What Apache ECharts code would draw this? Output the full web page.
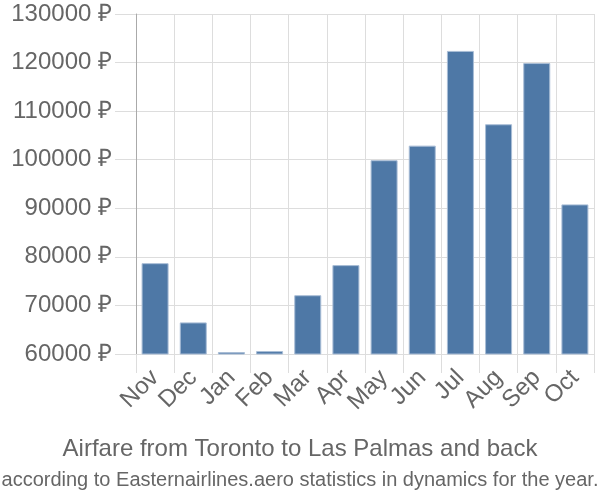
<!DOCTYPE html>
<html>
<head>
<meta charset="utf-8">
<script src="https://cdn.jsdelivr.net/npm/echarts@6/dist/echarts.min.js"></script>
<style>html,body{margin:0;padding:0;background:#fff}#c{width:600px;height:500px}</style>
</head>
<body>
<div id="c"></div>
<script>
var categories = ['Nov','Dec','Jan','Feb','Mar','Apr','May','Jun','Jul','Aug','Sep','Oct'];
var prices = [78700, 66500, 60400, 60600, 72100, 78300, 99900, 102900, 122400, 107300, 119900, 90800];
var titleText = 'Airfare from Toronto to Las Palmas and back';
var subtitleText = 'according to Easternairlines.aero statistics in dynamics for the year.';
var yMin = 60000, yMax = 130000, yStep = 10000;

var chart = echarts.init(document.getElementById('c'), null, {renderer: 'canvas'});
var font = 'Liberation Sans, Arial, sans-serif';
chart.setOption({
  animation: false,
  backgroundColor: '#fff',
  title: [{
    text: titleText, left: 'center', top: 432,
    textStyle: {fontFamily: font, fontSize: 24, fontWeight: 'normal', color: '#666'}
  }, {
    text: subtitleText, left: 'center', top: 465,
    textStyle: {fontFamily: font, fontSize: 20, fontWeight: 'normal', color: '#666'}
  }],
  grid: {left: 136, right: 6, top: 14, bottom: 146, containLabel: false},
  xAxis: {
    type: 'category', data: categories, boundaryGap: true,
    axisLine: {show: false},
    axisTick: {show: true, length: 19, lineStyle: {color: '#ddd', width: 1}},
    splitLine: {show: true, lineStyle: {color: '#ddd', width: 1}},
    axisLabel: {rotate: 45, margin: 20, fontFamily: font, fontSize: 24, color: '#666', interval: 0}
  },
  yAxis: {
    type: 'value', min: yMin, max: yMax, interval: yStep,
    axisLine: {show: true, lineStyle: {color: '#aaa', width: 1}},
    axisTick: {show: true, length: 21, lineStyle: {color: '#ddd', width: 1}},
    splitLine: {show: true, lineStyle: {color: '#ddd', width: 1}},
    axisLabel: {margin: 24, fontFamily: font, fontSize: 24, color: '#666',
      formatter: function (v) { return v + ' ₽'; }}
  },
  series: [{
    type: 'bar', data: prices, barWidth: 27,
    itemStyle: {color: '#4e78a6', borderColor: '#a9bdd6', borderWidth: 1}
  }]
});
</script>
</body>
</html>
